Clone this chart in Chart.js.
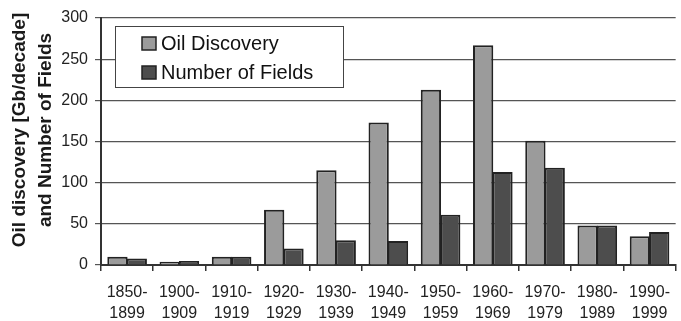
<!DOCTYPE html>
<html>
<head>
<meta charset="utf-8">
<script src="https://cdn.jsdelivr.net/npm/chart.js@4"></script>
<style>
  html, body { margin: 0; padding: 0; background: #ffffff; }
  #wrap { width: 681px; height: 321px; }
</style>
</head>
<body>
<div id="wrap"><canvas id="myChart" width="681" height="321"></canvas></div>
<script>
// decades (two-line labels)
var decadas = [
    ['1850-', '1899'], ['1900-', '1909'], ['1910-', '1919'], ['1920-', '1929'],
    ['1930-', '1939'], ['1940-', '1949'], ['1950-', '1959'], ['1960-', '1969'],
    ['1970-', '1979'], ['1980-', '1989'], ['1990-', '1999']
];
// oil discovery Gb/decade
var descubrimiento = [10, 4, 10, 67, 115, 173, 213, 267, 151, 48, 35];
// number of fields
var campos = [8, 5, 10, 20, 30, 29, 61, 113, 118, 48, 40];
var ticksY = [0, 50, 100, 150, 200, 250, 300];
var tituloY = ['Oil discovery [Gb/decade]', 'and Number of Fields'];

var fuente = 'Arial, "Liberation Sans", sans-serif';

// legend drawn inside the plot, like the original
var leyendaCaja = {
    id: 'leyendaCaja',
    afterDraw: function (chart) {
        var ctx = chart.ctx;
        var a = chart.chartArea;
        var x = a.left + 14, y = 26, w = 228, h = 61;
        ctx.save();
        ctx.fillStyle = '#ffffff';
        ctx.fillRect(x, y, w, h);
        ctx.strokeStyle = '#444';
        ctx.lineWidth = 1;
        ctx.strokeRect(x + 0.5, y + 0.5, w, h);
        ctx.font = '20px ' + fuente;
        ctx.textBaseline = 'middle';
        chart.data.datasets.forEach(function (ds, i) {
            var cy = y + 17 + i * 29;
            ctx.fillStyle = ds.backgroundColor;
            ctx.fillRect(x + 27, cy - 6, 14, 13);
            ctx.strokeStyle = '#222';
            ctx.lineWidth = 1.5;
            ctx.strokeRect(x + 27, cy - 6, 14, 13);
            ctx.fillStyle = '#111';
            ctx.fillText(ds.label, x + 46, cy + 1);
        });
        ctx.restore();
    }
};

// rotated two-line y title
var tituloEje = {
    id: 'tituloEje',
    afterDraw: function (chart) {
        var ctx = chart.ctx;
        ctx.save();
        ctx.font = 'bold 19px ' + fuente;
        ctx.fillStyle = '#1a1a1a';
        ctx.textAlign = 'center';
        ctx.textBaseline = 'middle';
        ctx.translate(0, 130);
        ctx.rotate(-Math.PI / 2);
        ctx.fillText(tituloY[0], 0, 20);
        ctx.fillText(tituloY[1], 0, 46);
        ctx.restore();
    }
};

var graphTarget = document.getElementById('myChart');
var barGraph = new Chart(graphTarget, {
    type: 'bar',
    data: {
        labels: decadas,
        datasets: [
            {
                label: 'Oil Discovery',
                backgroundColor: '#9b9b9b',
                borderColor: '#222',
                borderWidth: 2,
                data: descubrimiento,
                categoryPercentage: 0.74,
                barPercentage: 1.05
            },
            {
                label: 'Number of Fields',
                backgroundColor: '#4d4d4d',
                borderColor: '#222',
                borderWidth: 2,
                data: campos,
                categoryPercentage: 0.74,
                barPercentage: 1.05
            }
        ]
    },
    plugins: [leyendaCaja, tituloEje],
    options: {
        responsive: false,
        animation: false,
        layout: { padding: { top: 18, right: 0, left: 0, bottom: 0 } },
        plugins: {
            legend: { display: false },
            tooltip: { enabled: false }
        },
        scales: {
            x: {
                afterFit: function (s) { s.height = 56; },
                grid: {
                    offset: true,
                    drawOnChartArea: false,
                    drawTicks: true,
                    tickLength: 6,
                    color: '#333',
                    lineWidth: 1.5
                },
                border: { color: '#333', width: 2 },
                ticks: {
                    color: '#222',
                    font: { size: 16, family: fuente, lineHeight: 1.3 },
                    maxRotation: 0,
                    autoSkip: false,
                    padding: 11
                }
            },
            y: {
                min: 0,
                max: 300,
                afterFit: function (s) { s.width = 101; },
                afterBuildTicks: function (s) {
                    s.ticks = ticksY.map(function (v) { return { value: v }; });
                },
                grid: {
                    color: '#555',
                    lineWidth: 1.2,
                    tickLength: 6
                },
                border: { color: '#333', width: 2 },
                ticks: {
                    color: '#222',
                    font: { size: 16, family: fuente },
                    padding: 7
                }
            }
        }
    }
});
</script>
</body>
</html>
